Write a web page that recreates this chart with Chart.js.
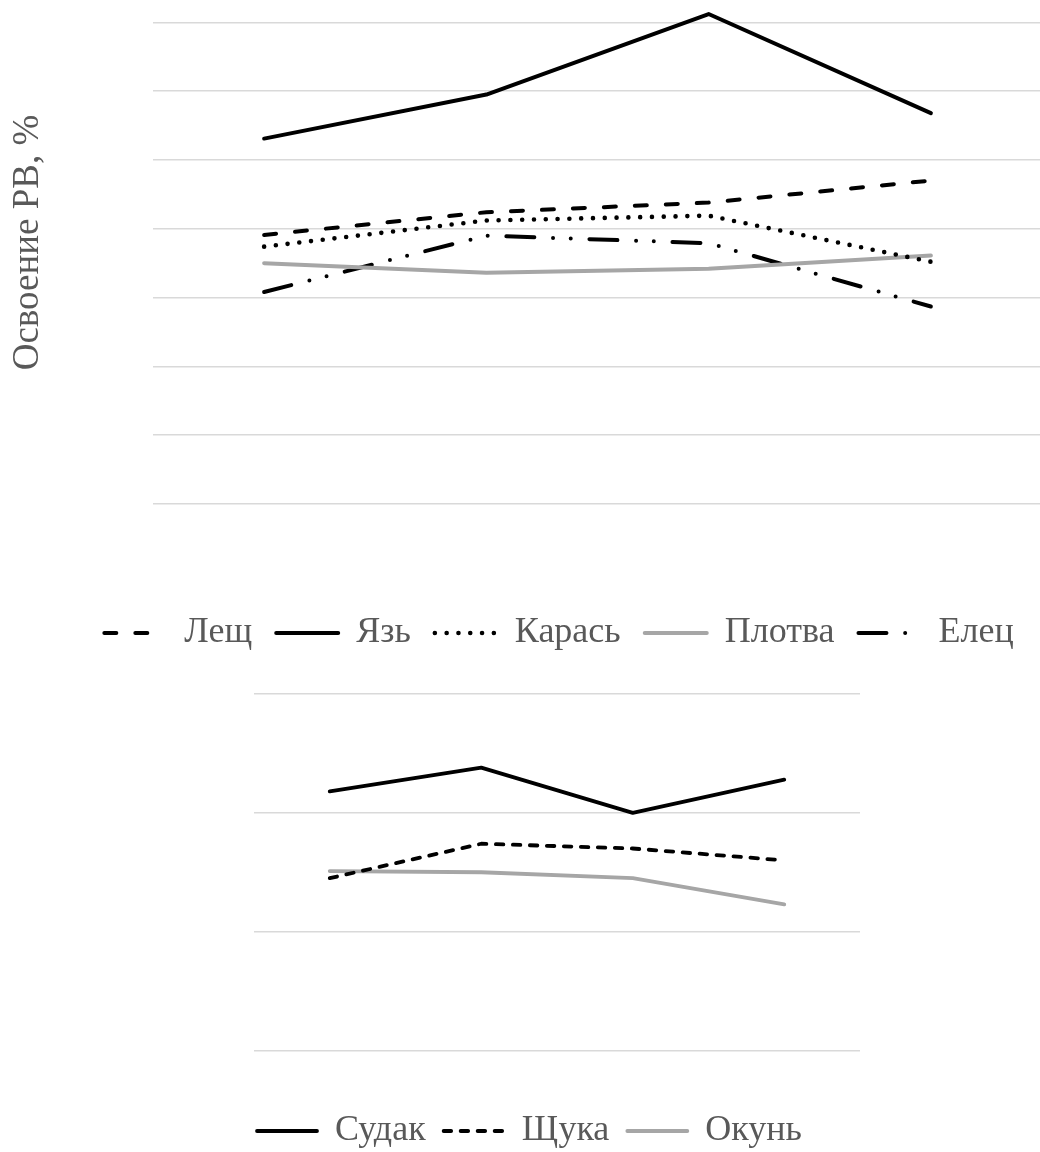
<!DOCTYPE html>
<html lang="ru">
<head>
  <meta charset="UTF-8" />
  <title>Освоение РВ</title>
  <script src="https://cdn.jsdelivr.net/npm/chart.js@4"></script>
  <style>
    html, body { margin: 0; padding: 0; background: #fff; }
    body { position: relative; width: 1040px; height: 1152px; overflow: hidden; }
    .box { position: absolute; left: 0; }
    #topBox { top: -19px; width: 1118px; height: 680px; }
    #bottomBox { top: 684px; width: 860px; height: 475px; }
  </style>
</head>
<body>
  <div id="topBox" class="box"><canvas id="topChart"></canvas></div>
  <div id="bottomBox" class="box"><canvas id="bottomChart"></canvas></div>

  <script>
    // Периоды наблюдений (подписи по оси X не выводятся)
    const periods = ['I', 'II', 'III', 'IV'];

    // Мирные виды, % освоения
    const lesch  = [39.1, 42.4, 43.8, 47.0];
    const yaz    = [53.1, 59.5, 71.2, 56.8];
    const karas  = [37.4, 41.2, 41.9, 35.2];
    const plotva = [35.0, 33.6, 34.2, 36.1];
    const elets  = [30.8, 39.0, 37.9, 28.7];

    // Хищники, % освоения
    const sudak = [21.8, 23.8, 20.0, 22.8];
    const schuka = [14.5, 17.4, 17.0, 16.0];
    const okun = [15.1, 15.0, 14.5, 12.3];

    const topTicks = [0, 10, 20, 30, 40, 50, 60, 70];
    const bottomTicks = [0, 10, 20, 30];

    const FONT = "'Liberation Serif', 'Times New Roman', serif";
    const TEXT = '#595959';
    const GRID = '#d9d9d9';
    const GREY = '#a6a6a6';

    Chart.defaults.font.family = FONT;
    Chart.defaults.animation = false;

    function line(label, data, color, width, dash) {
      return {
        label, data,
        borderColor: color,
        backgroundColor: color,
        borderWidth: width,
        borderDash: dash || [],
        borderCapStyle: 'round',
        borderJoinStyle: 'round',
        pointRadius: 0,
        pointHoverRadius: 0,
        tension: 0,
        fill: false
      };
    }

    // легенда: образец линии с тем же пунктиром, что и у серии
    function legendLabels(chart) {
      return chart.data.datasets.map((ds, i) => ({
        text: ds.label,
        datasetIndex: i,
        fillStyle: ds.borderColor,
        strokeStyle: ds.borderColor,
        lineWidth: ds.borderWidth,
        lineDash: ds.borderDash,
        lineCap: 'round',
        pointStyle: 'line',
        rotation: 180,
        fontColor: TEXT,
        hidden: false
      }));
    }

    function legend(width, padding) {
      return {
        position: 'bottom',
        labels: {
          usePointStyle: true,
          pointStyleWidth: width,
          padding: padding,
          color: TEXT,
          font: { family: FONT, size: 36 },
          generateLabels: legendLabels
        }
      };
    }

    function gridColor(ticks) {
      return ctx => ticks.includes(ctx.tick.value) ? GRID : 'rgba(0,0,0,0)';
    }

    // Верхний график
    new Chart(document.getElementById('topChart'), {
      type: 'line',
      data: {
        labels: periods,
        datasets: [
          line('Лещ', lesch, '#000', 4, [12, 19]),
          line('Язь', yaz, '#000', 4),
          line('Карась', karas, '#000', 4.6, [0, 11.8]),
          line('Плотва', plotva, GREY, 4),
          line('Елец', elets, '#000', 4, [28, 18.7, 0, 17.7, 0, 18.7])
        ]
      },
      options: {
        responsive: true,
        maintainAspectRatio: false,
        devicePixelRatio: 1,
        layout: { padding: 0 },
        plugins: { legend: legend(62, 24), tooltip: { enabled: false } },
        scales: {
          x: {
            type: 'category',
            offset: true,
            grid: { display: false },
            border: { display: false },
            ticks: { display: false },
            afterFit: s => { s.height = 87; }
          },
          y: {
            min: 0,
            max: 76,
            ticks: { display: false, stepSize: 10 },
            border: { display: false },
            grid: { color: gridColor(topTicks), lineWidth: 1.5, drawTicks: false },
            title: {
              display: true,
              text: 'Освоение РВ, %',
              color: TEXT,
              font: { family: FONT, size: 37 },
              padding: { top: 6, bottom: 0 }
            },
            afterFit: s => { s.width = 153; }
          },
          // пустая правая ось — смещает центр легенды
          yRight: {
            type: 'linear',
            position: 'right',
            display: true,
            grid: { display: false },
            border: { display: false },
            ticks: { display: false },
            afterFit: s => { s.width = 76; }
          }
        }
      }
    });

    // Нижний график
    new Chart(document.getElementById('bottomChart'), {
      type: 'line',
      data: {
        labels: periods,
        datasets: [
          line('Судак', sudak, '#000', 3.8),
          line('Щука', schuka, '#000', 3.8, [7.5, 9.5]),
          line('Окунь', okun, GREY, 3.8)
        ]
      },
      options: {
        responsive: true,
        maintainAspectRatio: false,
        devicePixelRatio: 1,
        layout: { padding: { left: 199, top: 10, right: 0, bottom: 0 } },
        plugins: { legend: legend(60, 18), tooltip: { enabled: false } },
        scales: {
          x: {
            type: 'category',
            offset: true,
            grid: { display: false },
            border: { display: false },
            ticks: { display: false },
            afterFit: s => { s.height = 44.5; }
          },
          y: {
            min: 0,
            max: 30,
            ticks: { display: false, stepSize: 10 },
            border: { display: false },
            grid: { color: gridColor(bottomTicks), lineWidth: 1.5, drawTicks: false },
            afterFit: s => { s.width = 55; }
          }
        }
      }
    });
  </script>
</body>
</html>
